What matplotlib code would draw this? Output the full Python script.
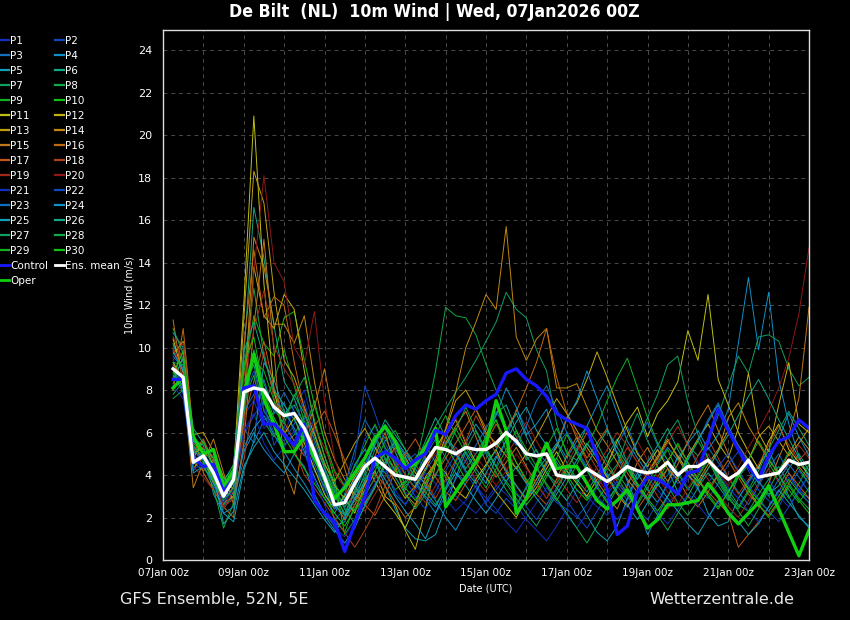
import matplotlib
matplotlib.use("Agg")
import matplotlib.pyplot as plt
import matplotlib.dates as mdates
from matplotlib.lines import Line2D
import pandas as pd

# 6-hourly steps, 07Jan 06z .. 23Jan 00z
times = pd.date_range("2026-01-07 06:00", periods=64, freq="6h")

ens_mean = [9.0, 8.6, 4.6, 4.9, 4.1, 3.0, 3.8, 7.9, 8.1, 8.0, 7.2, 6.8, 6.9, 6.2, 5.1, 3.9,
            2.6, 2.7, 3.6, 4.4, 4.8, 4.4, 4.0, 3.9, 3.8, 4.6, 5.3, 5.2, 5.0, 5.3, 5.2, 5.2,
            5.5, 6.0, 5.6, 5.0, 4.9, 5.0, 4.0, 3.9, 3.9, 4.3, 4.0, 3.7, 4.0, 4.4, 4.2, 4.1,
            4.2, 4.6, 4.0, 4.4, 4.4, 4.7, 4.2, 3.8, 4.1, 4.7, 3.9, 4.0, 4.1, 4.7, 4.5, 4.6]

control = [8.5, 8.5, 4.8, 4.4, 4.5, 3.2, 3.8, 8.1, 8.2, 6.4, 6.4, 5.9, 5.4, 6.4, 2.8, 2.2,
           1.8, 0.4, 1.7, 3.0, 4.8, 5.1, 4.8, 4.3, 4.7, 5.0, 6.1, 5.9, 6.8, 7.3, 7.1, 7.5,
           7.8, 8.8, 9.0, 8.5, 8.2, 7.7, 6.9, 6.6, 6.4, 6.2, 4.9, 3.3, 1.2, 1.6, 3.2, 3.9,
           3.8, 3.5, 3.1, 4.1, 4.2, 5.6, 7.1, 6.1, 5.2, 4.4, 3.8, 4.9, 5.6, 5.8, 6.6, 6.2]

oper = [8.1, 8.6, 5.8, 5.0, 5.2, 3.5, 4.2, 7.8, 9.7, 7.6, 6.4, 5.1, 5.1, 5.8, 4.8, 3.9,
        2.9, 3.4, 4.1, 4.8, 5.7, 6.3, 5.6, 4.4, 4.5, 5.3, 6.2, 2.5, 3.2, 3.9, 4.6, 5.4,
        7.5, 6.1, 2.2, 2.9, 4.4, 5.5, 4.3, 4.4, 4.4, 3.6, 2.8, 2.4, 2.8, 3.3, 2.4, 1.5,
        1.9, 2.6, 2.6, 2.7, 2.8, 3.6, 3.0, 2.2, 1.7, 2.2, 2.7, 3.5, 2.4, 1.3, 0.2, 1.4]

p1 = [9.5, 7.8, 4.5, 4.8, 4.0, 3.1, 3.6, 6.8, 7.5, 6.2, 6.6, 5.9, 7.2, 8.0, 6.1, 4.2,
      2.5, 2.0, 3.0, 4.6, 5.3, 4.8, 3.9, 3.2, 2.9, 3.5, 4.1, 3.7, 3.0, 2.6, 2.2, 2.8,
      3.5, 3.1, 2.6, 1.9, 1.4, 0.9, 1.6, 2.4, 3.3, 3.0, 2.5, 2.1, 2.8, 3.6, 4.2, 3.9,
      3.3, 2.7, 3.1, 3.8, 4.3, 5.0, 4.1, 3.4, 2.9, 3.6, 4.4, 3.8, 3.0, 2.5, 3.2, 4.0]
p2 = [8.8, 9.2, 4.9, 4.4, 4.3, 2.9, 3.4, 5.9, 6.8, 7.5, 5.4, 6.3, 5.6, 6.7, 4.9, 3.2,
      1.9, 2.4, 4.1, 5.7, 6.3, 5.2, 4.0, 4.6, 5.0, 4.2, 4.9, 5.6, 5.3, 4.8, 3.6, 2.6,
      2.2, 2.9, 2.4, 3.5, 4.0, 3.2, 2.7, 2.4, 2.0, 2.6, 3.4, 4.1, 3.5, 2.8, 3.9, 4.6,
      5.2, 4.5, 3.6, 4.0, 3.3, 2.9, 3.6, 4.5, 5.1, 4.2, 3.3, 2.8, 2.5, 3.4, 4.2, 3.6]
p3 = [10.1, 9.3, 5.3, 4.9, 4.2, 3.3, 4.1, 6.2, 5.5, 6.6, 6.9, 7.4, 6.0, 5.3, 4.2, 3.5,
      2.9, 3.5, 5.2, 6.6, 5.8, 4.4, 3.1, 2.6, 3.4, 4.9, 5.7, 4.8, 4.1, 3.7, 4.6, 5.1,
      4.4, 5.7, 7.1, 6.2, 5.1, 4.6, 5.4, 6.0, 5.2, 4.4, 3.6, 4.5, 5.4, 6.3, 5.1, 4.3,
      3.5, 4.0, 4.8, 5.5, 4.4, 5.3, 4.6, 3.9, 3.2, 2.6, 3.5, 4.3, 5.0, 4.1, 3.3, 2.9]
p4 = [9.0, 8.1, 4.2, 5.1, 3.8, 2.6, 3.0, 5.1, 6.0, 5.2, 4.6, 4.1, 5.0, 4.4, 3.1, 2.2,
      1.6, 1.8, 2.9, 3.6, 4.4, 5.0, 5.6, 4.9, 3.7, 3.0, 2.5, 3.4, 4.6, 5.5, 6.4, 5.7,
      6.8, 8.1, 7.2, 5.9, 6.4, 7.1, 5.6, 4.8, 5.6, 6.3, 7.3, 8.2, 6.9, 5.6, 4.8, 4.1,
      4.6, 5.3, 4.7, 5.5, 6.1, 5.2, 5.9, 7.1, 10.2, 13.3, 9.9, 12.6, 8.5, 6.4, 4.9, 3.8]
p5 = [10.7, 10.0, 5.7, 5.4, 3.1, 2.2, 1.8, 4.2, 5.6, 9.3, 8.5, 7.0, 6.2, 5.1, 3.9, 2.9,
      2.2, 3.1, 4.5, 5.2, 4.7, 3.5, 2.4, 1.5, 1.0, 0.9, 1.2, 2.5, 3.9, 5.1, 4.3, 3.6,
      4.8, 5.6, 6.5, 7.2, 6.1, 5.4, 4.6, 3.9, 3.0, 2.1, 1.3, 0.9, 1.6, 2.9, 4.1, 3.3,
      2.7, 3.6, 4.9, 4.1, 3.4, 2.2, 1.6, 1.8, 2.9, 3.7, 4.4, 5.2, 4.1, 3.0, 2.0, 1.6]
p6 = [10.2, 8.9, 5.4, 4.7, 3.6, 2.4, 3.2, 9.5, 16.6, 14.2, 11.0, 8.4, 7.6, 6.3, 5.0, 4.1,
      3.2, 2.1, 2.8, 4.1, 5.6, 6.2, 5.1, 4.0, 3.4, 4.2, 5.3, 6.0, 5.1, 4.3, 5.0, 5.8,
      6.9, 7.3, 6.1, 4.9, 4.2, 4.8, 5.5, 4.6, 3.8, 3.2, 4.0, 4.9, 5.7, 4.6, 3.5, 2.9,
      3.7, 4.3, 3.2, 2.6, 3.4, 4.1, 3.5, 2.8, 3.9, 4.5, 3.7, 3.1, 3.5, 4.3, 5.0, 4.2]
p7 = [8.3, 9.6, 5.8, 5.2, 4.5, 3.4, 3.9, 8.1, 9.2, 7.0, 6.3, 5.4, 5.9, 6.8, 6.0, 4.6,
      3.4, 2.5, 3.1, 3.9, 5.2, 5.8, 4.7, 3.5, 3.9, 5.0, 6.3, 7.1, 7.9, 8.6, 9.4, 10.3,
      11.2, 12.6, 11.8, 11.4, 9.9, 8.9, 6.4, 5.0, 4.7, 5.5, 4.8, 3.9, 4.5, 5.8, 6.9, 5.6,
      4.7, 5.9, 6.6, 5.4, 4.9, 5.6, 6.8, 8.2, 9.6, 8.8, 10.5, 10.6, 10.3, 9.0, 8.2, 8.6]
p8 = [7.8, 8.4, 5.2, 4.6, 3.9, 2.6, 3.5, 8.9, 12.8, 9.6, 7.8, 6.9, 7.3, 6.4, 5.3, 4.4,
      3.0, 2.2, 3.3, 4.9, 5.9, 4.8, 4.3, 3.3, 4.4, 6.5, 8.9, 11.9, 11.5, 11.4, 10.6, 9.2,
      8.0, 6.9, 5.8, 4.7, 5.2, 4.1, 3.6, 4.4, 3.7, 2.9, 3.5, 4.3, 3.9, 3.1, 2.6, 3.4,
      4.2, 3.5, 2.7, 2.1, 2.8, 3.4, 4.0, 3.3, 2.6, 2.3, 3.1, 3.8, 4.4, 3.6, 2.9, 2.4]
p9 = [8.9, 8.0, 4.6, 4.2, 4.7, 3.8, 4.3, 7.4, 9.8, 7.3, 8.5, 9.9, 8.2, 6.5, 4.8, 3.6,
      1.9, 1.3, 2.6, 3.8, 4.5, 5.6, 6.1, 5.2, 4.1, 3.8, 4.5, 5.4, 6.2, 5.3, 4.5, 5.9,
      6.6, 5.1, 4.3, 3.6, 4.4, 5.3, 6.2, 5.1, 4.3, 3.6, 2.8, 3.5, 4.1, 3.4, 2.7, 3.6,
      4.5, 5.2, 4.1, 3.3, 4.0, 4.8, 3.7, 2.9, 2.4, 3.2, 3.9, 4.6, 3.7, 2.9, 3.6, 4.5]
p10 = [8.6, 9.9, 5.5, 5.0, 4.0, 3.2, 4.0, 8.8, 11.5, 10.2, 9.6, 11.4, 11.7, 9.4, 7.3, 5.6,
       3.8, 1.2, 1.9, 3.3, 4.6, 4.1, 3.3, 3.7, 4.8, 5.4, 4.6, 3.9, 3.3, 4.0, 4.7, 5.3,
       4.4, 3.7, 3.1, 2.6, 3.2, 4.1, 4.8, 4.0, 3.3, 2.8, 3.5, 4.4, 5.1, 4.3, 3.6, 2.9,
       2.3, 3.0, 3.9, 4.6, 3.8, 3.1, 2.5, 3.2, 4.0, 3.4, 2.8, 2.3, 3.0, 3.8, 3.2, 2.7]
p11 = [10.4, 8.8, 4.8, 5.6, 4.4, 3.5, 4.2, 12.0, 20.9, 13.0, 8.0, 5.9, 6.7, 5.5, 4.3, 3.1,
       2.4, 3.0, 3.9, 4.6, 3.7, 2.8, 2.2, 1.5, 2.6, 3.9, 4.6, 4.1, 3.3, 2.9, 3.8, 4.5,
       5.2, 4.1, 3.5, 2.8, 3.4, 4.3, 5.1, 4.2, 3.6, 3.0, 3.8, 4.5, 5.6, 6.5, 7.2, 5.8,
       6.9, 7.5, 8.4, 10.8, 9.4, 12.5, 8.5, 7.3, 6.0, 5.1, 4.3, 5.6, 6.4, 5.2, 4.6, 4.0]
p12 = [9.3, 8.5, 5.0, 5.3, 4.8, 3.3, 2.9, 6.5, 13.8, 11.5, 10.9, 12.5, 11.8, 8.9, 6.4, 4.9,
       3.5, 2.9, 2.2, 3.6, 4.2, 3.0, 2.6, 1.4, 0.5, 2.4, 4.5, 5.8, 6.6, 5.5, 4.6, 3.9,
       3.2, 2.6, 2.0, 2.9, 3.8, 4.6, 5.3, 6.7, 7.4, 8.5, 9.8, 8.6, 7.3, 6.1, 5.0, 4.4,
       5.2, 4.3, 3.8, 4.9, 5.7, 6.4, 5.5, 4.8, 6.2, 8.8, 6.0, 5.1, 7.3, 9.3, 6.4, 6.0]
p13 = [9.7, 10.3, 5.9, 6.0, 5.1, 3.9, 3.3, 11.3, 18.3, 16.8, 12.6, 9.4, 8.6, 7.2, 5.9, 4.5,
       3.7, 4.6, 5.5, 6.2, 5.3, 4.5, 3.7, 2.9, 3.5, 4.3, 5.2, 6.1, 7.5, 8.0, 7.1, 6.0,
       5.5, 4.9, 4.3, 5.0, 5.8, 6.7, 7.6, 6.9, 6.1, 5.3, 4.6, 3.9, 3.1, 2.5, 3.3, 4.1,
       4.8, 5.6, 4.9, 4.2, 3.7, 4.5, 5.2, 6.1, 5.4, 4.7, 5.8, 6.3, 5.6, 4.9, 5.5, 6.2]
p14 = [9.2, 8.6, 4.3, 4.9, 3.6, 2.7, 3.0, 7.2, 15.2, 13.8, 11.1, 11.1, 10.2, 11.5, 8.4, 6.0,
       4.7, 3.8, 3.1, 2.7, 3.4, 4.6, 5.3, 4.8, 4.1, 3.6, 4.7, 6.2, 7.9, 10.0, 11.2, 12.5,
       11.8, 15.7, 10.5, 9.4, 10.4, 10.9, 8.1, 8.1, 8.3, 7.2, 6.1, 5.4, 4.6, 3.8, 3.2, 4.1,
       4.9, 5.7, 4.8, 4.0, 3.5, 4.3, 5.1, 6.7, 7.4, 6.3, 5.5, 4.7, 4.1, 5.0, 5.8, 5.2]
p15 = [11.3, 8.2, 3.4, 4.6, 5.7, 4.1, 2.6, 5.5, 11.0, 15.1, 9.8, 4.4, 3.1, 5.9, 7.2, 9.0,
       6.4, 4.3, 2.8, 3.5, 4.9, 6.0, 4.4, 3.1, 2.6, 3.4, 4.6, 5.5, 6.3, 7.0, 5.8, 4.6,
       3.9, 4.6, 5.3, 4.4, 3.6, 2.9, 3.8, 4.9, 5.8, 4.6, 3.7, 3.0, 2.4, 3.5, 4.6, 5.3,
       4.4, 3.7, 4.5, 5.6, 6.5, 7.3, 6.1, 5.0, 4.1, 3.3, 2.5, 3.6, 4.8, 5.9, 7.6, 11.9]
p16 = [8.0, 10.9, 6.0, 4.1, 3.3, 2.5, 2.0, 10.0, 14.6, 11.4, 12.4, 12.0, 9.3, 7.1, 5.2, 3.8,
       2.7, 1.9, 2.6, 3.3, 4.1, 3.5, 2.7, 2.0, 2.5, 3.3, 4.0, 4.8, 5.5, 6.3, 7.1, 6.2,
       5.3, 6.1, 7.0, 8.1, 9.3, 10.9, 8.6, 6.9, 5.7, 4.8, 5.5, 6.2, 5.0, 4.1, 3.4, 2.8,
       3.5, 4.3, 3.8, 3.0, 2.5, 3.2, 4.0, 4.7, 3.9, 3.1, 2.6, 2.1, 2.8, 3.6, 4.4, 3.8]
p17 = [9.9, 9.0, 5.1, 5.7, 4.6, 3.6, 3.1, 6.6, 8.4, 10.3, 8.1, 6.5, 5.6, 4.9, 6.3, 7.0,
       5.9, 4.7, 3.5, 2.6, 2.1, 3.0, 4.2, 5.0, 5.7, 4.8, 3.9, 3.2, 2.8, 3.6, 4.3, 5.5,
       6.4, 5.7, 4.6, 3.7, 3.1, 2.6, 3.4, 4.3, 5.1, 6.0, 5.2, 4.4, 3.7, 3.0, 2.4, 3.1,
       3.9, 4.7, 5.4, 4.6, 3.8, 3.2, 2.7, 2.2, 0.6, 1.2, 1.8, 2.5, 3.2, 4.1, 3.5, 2.9]
p18 = [10.5, 9.4, 5.0, 4.3, 3.8, 2.5, 2.9, 4.7, 7.5, 9.8, 7.6, 6.1, 5.2, 4.0, 3.4, 2.7,
       2.0, 1.3, 0.6, 1.4, 2.3, 3.5, 4.3, 5.1, 4.5, 3.7, 2.9, 3.8, 4.7, 5.6, 6.8, 5.9,
       5.0, 4.3, 3.5, 2.8, 3.6, 4.5, 5.4, 6.7, 5.9, 5.1, 4.3, 3.5, 4.4, 5.3, 4.6, 3.8,
       3.0, 2.4, 3.2, 4.0, 4.9, 5.7, 4.8, 3.9, 3.1, 3.8, 4.5, 5.4, 6.3, 5.4, 4.7, 5.2]
p19 = [10.0, 8.7, 4.4, 3.9, 3.3, 2.9, 4.4, 8.6, 10.8, 12.7, 10.1, 9.0, 8.3, 7.0, 6.2, 5.3,
       4.1, 3.4, 2.8, 2.3, 3.1, 3.9, 4.7, 4.0, 3.3, 2.7, 3.5, 4.4, 5.3, 4.6, 3.8, 3.2,
       4.1, 4.9, 5.7, 6.5, 5.6, 4.8, 4.0, 3.3, 2.7, 3.5, 4.4, 5.2, 6.0, 5.4, 4.6, 3.9,
       4.7, 5.5, 6.3, 5.4, 4.6, 3.8, 3.1, 2.5, 2.0, 2.8, 3.6, 4.3, 3.7, 4.6, 5.4, 4.8]
p20 = [9.4, 10.2, 5.5, 5.3, 4.9, 2.4, 3.3, 5.8, 13.6, 18.1, 14.0, 13.1, 10.0, 9.2, 11.7, 7.5,
       4.8, 3.3, 2.5, 3.1, 3.8, 4.4, 5.2, 4.5, 3.7, 4.5, 5.0, 5.8, 6.7, 5.6, 4.9, 4.2,
       3.5, 4.2, 5.0, 4.3, 3.6, 2.9, 3.7, 4.5, 5.4, 4.7, 3.9, 3.2, 4.0, 4.8, 5.6, 4.7,
       3.9, 3.2, 2.6, 3.4, 4.1, 5.0, 4.2, 3.5, 4.4, 5.3, 6.1, 7.0, 8.1, 9.5, 11.6, 14.7]
p21 = [8.2, 7.6, 4.3, 4.5, 3.5, 2.7, 3.3, 6.1, 6.9, 5.5, 4.7, 5.3, 6.1, 5.0, 3.8, 2.6,
       1.5, 1.1, 1.9, 2.8, 3.6, 4.2, 3.3, 2.6, 3.3, 4.1, 3.6, 2.9, 2.3, 2.8, 3.5, 2.9,
       2.4, 1.8, 1.3, 2.0, 2.7, 3.4, 2.8, 2.1, 1.5, 2.2, 3.0, 2.5, 1.9, 2.6, 3.3, 2.8,
       2.2, 1.7, 2.4, 3.1, 2.6, 2.0, 2.7, 3.4, 2.9, 2.3, 1.8, 2.5, 3.2, 3.9, 3.3, 2.7]
p22 = [9.1, 8.3, 4.7, 5.0, 4.4, 3.4, 3.9, 7.7, 8.9, 7.1, 6.0, 5.6, 6.4, 7.5, 5.5, 3.9,
       2.8, 3.6, 4.8, 8.2, 6.9, 5.5, 4.6, 3.8, 3.0, 2.4, 3.2, 4.2, 5.0, 4.1, 3.4, 2.7,
       3.3, 4.0, 3.2, 2.5, 1.9, 2.6, 3.4, 2.8, 2.1, 1.5, 2.3, 3.1, 3.7, 3.0, 2.4, 1.9,
       2.7, 3.5, 4.2, 3.4, 2.8, 3.6, 4.4, 5.0, 4.2, 3.5, 2.9, 2.3, 1.8, 2.5, 3.3, 4.0]
p23 = [9.6, 9.0, 5.2, 4.7, 4.0, 3.0, 3.7, 7.0, 7.8, 8.5, 6.9, 7.9, 7.0, 5.8, 4.5, 3.4,
       2.4, 2.9, 3.8, 4.5, 5.4, 6.4, 5.3, 4.4, 3.6, 2.9, 2.2, 3.0, 3.8, 4.7, 5.4, 6.2,
       7.0, 6.2, 5.4, 6.3, 7.5, 8.2, 7.1, 6.0, 5.1, 4.3, 3.5, 2.8, 3.5, 4.4, 5.6, 6.5,
       5.4, 4.7, 3.9, 4.8, 5.6, 6.6, 7.4, 6.3, 5.4, 4.6, 3.7, 3.0, 3.8, 4.5, 3.9, 3.2]
p24 = [8.7, 7.9, 4.1, 4.4, 3.7, 2.2, 2.5, 5.3, 6.2, 6.8, 5.9, 5.1, 4.3, 3.6, 2.8, 2.1,
       1.4, 0.8, 1.5, 2.6, 3.5, 4.4, 5.7, 5.0, 4.3, 3.5, 2.8, 2.0, 1.4, 2.3, 3.2, 4.1,
       4.9, 4.2, 3.5, 2.9, 3.6, 4.5, 5.4, 6.6, 7.5, 8.9, 7.6, 6.2, 5.0, 3.7, 2.6, 1.2,
       2.1, 3.0, 3.8, 4.7, 5.6, 6.5, 7.3, 6.1, 5.2, 4.4, 3.6, 4.6, 5.7, 6.9, 5.8, 4.9]
p25 = [9.8, 8.9, 5.6, 5.1, 4.1, 1.7, 2.3, 4.4, 5.3, 6.0, 5.1, 4.5, 3.9, 3.3, 2.6, 1.9,
       1.3, 2.0, 2.9, 3.7, 4.6, 3.8, 3.0, 2.3, 1.7, 1.0, 2.2, 3.3, 4.1, 3.5, 2.8, 2.2,
       2.9, 3.7, 4.4, 3.6, 2.9, 2.3, 3.1, 3.9, 4.7, 5.5, 4.8, 4.0, 3.2, 2.6, 1.9, 2.7,
       3.6, 2.9, 2.3, 1.7, 1.2, 2.0, 2.8, 2.3, 1.8, 1.2, 1.7, 2.5, 3.3, 2.7, 2.1, 1.5]
p26 = [8.5, 9.5, 6.2, 5.5, 4.8, 3.7, 4.5, 9.8, 11.2, 9.5, 8.0, 7.3, 6.6, 5.7, 4.7, 3.7,
       2.6, 2.1, 3.2, 4.3, 5.5, 6.6, 5.9, 5.2, 4.5, 5.6, 6.7, 5.8, 5.0, 4.2, 3.6, 4.4,
       5.2, 6.0, 6.9, 5.8, 4.9, 4.1, 3.4, 2.8, 3.6, 4.5, 5.3, 6.1, 5.3, 4.5, 3.8, 4.6,
       5.4, 6.2, 5.2, 4.4, 3.6, 4.3, 5.1, 5.9, 6.8, 7.7, 8.5, 7.6, 6.6, 5.7, 4.8, 4.0]
p27 = [10.9, 9.7, 5.4, 4.8, 3.9, 2.8, 3.4, 6.9, 9.9, 8.3, 7.1, 6.4, 7.8, 6.9, 5.7, 4.3,
       3.3, 2.4, 1.7, 2.5, 3.4, 4.6, 5.6, 4.7, 3.9, 3.2, 2.6, 3.4, 4.3, 5.2, 6.1, 5.2,
       4.4, 3.6, 2.9, 2.2, 1.6, 2.4, 3.3, 4.2, 5.2, 6.3, 5.5, 4.6, 3.8, 4.7, 5.6, 6.7,
       7.8, 9.2, 9.6, 7.4, 5.9, 4.8, 3.9, 3.1, 2.5, 3.3, 4.2, 5.2, 6.1, 7.0, 6.2, 5.4]
p28 = [7.6, 8.0, 4.9, 4.5, 3.4, 1.5, 2.7, 7.5, 8.7, 6.5, 5.8, 6.7, 7.7, 8.6, 6.6, 4.9,
       3.6, 2.8, 2.3, 3.0, 3.9, 4.8, 3.9, 3.1, 2.4, 3.1, 4.0, 5.0, 6.1, 7.2, 6.1, 5.0,
       4.1, 3.3, 2.6, 3.4, 4.3, 3.6, 2.9, 2.2, 1.5, 0.8, 1.6, 2.5, 3.4, 4.3, 3.5, 2.8,
       2.1, 1.4, 2.2, 3.0, 3.9, 4.7, 3.8, 3.0, 2.3, 1.6, 2.4, 3.3, 4.2, 5.1, 4.3, 3.6]
p29 = [9.3, 9.2, 5.0, 5.6, 4.3, 3.1, 3.6, 7.8, 9.4, 8.9, 7.5, 6.0, 5.3, 6.1, 7.5, 5.6,
       4.2, 3.5, 4.4, 5.4, 6.4, 5.3, 4.5, 3.6, 4.3, 5.1, 5.9, 6.8, 5.9, 5.0, 4.1, 3.4,
       4.3, 5.2, 6.1, 5.2, 4.4, 3.5, 2.8, 3.6, 4.5, 5.4, 6.3, 7.5, 8.6, 9.5, 8.1, 6.7,
       5.5, 4.7, 3.9, 4.8, 5.6, 4.8, 4.0, 3.2, 3.9, 4.7, 5.6, 4.8, 4.0, 3.3, 2.7, 3.4]
p30 = [8.8, 9.8, 5.9, 4.9, 3.7, 3.0, 4.1, 9.2, 10.5, 7.9, 6.7, 5.8, 5.0, 4.3, 3.6, 2.9,
       2.2, 1.6, 2.4, 3.3, 4.2, 5.1, 4.2, 3.4, 2.8, 3.6, 4.5, 5.4, 4.6, 3.8, 4.7, 5.7,
       6.6, 5.5, 4.6, 3.8, 3.1, 3.9, 4.8, 5.9, 5.0, 4.2, 3.4, 2.7, 3.5, 4.4, 3.6, 2.9,
       3.7, 4.6, 5.5, 4.6, 3.8, 3.0, 2.4, 3.2, 4.1, 3.3, 2.6, 2.0, 2.7, 3.5, 2.8, 2.2]

members = [p1, p2, p3, p4, p5, p6, p7, p8, p9, p10,
           p11, p12, p13, p14, p15, p16, p17, p18, p19, p20,
           p21, p22, p23, p24, p25, p26, p27, p28, p29, p30]

# colour cycle of the 20 perturbation colours (P21..P30 repeat P1..P10)
member_colors = ["#1030c0", "#1048c0", "#1070c0", "#1090c8", "#10a0b8",
                 "#10a888", "#10a060", "#10a848", "#10b020", "#10c010",
                 "#c0c010", "#c0b010", "#c0a010", "#c08810", "#c07818",
                 "#c06810", "#c05818", "#b04018", "#a02818", "#901818"]

BG = "black"
FG = "white"

plt.rcParams["font.family"] = ["DejaVu Sans"]

fig = plt.figure(figsize=(8.5, 6.2), dpi=100, facecolor=BG)
ax = fig.add_axes([163 / 850, 60 / 620, 646 / 850, 530 / 620])
ax.set_facecolor(BG)

handles = []
for i, vals in enumerate(members):
    c = member_colors[i % 20]
    ln, = ax.plot(times, vals, color=c, lw=0.7, label=f"P{i + 1}")
    handles.append(ln)

h_oper, = ax.plot(times, oper, color="#10d010", lw=2.4, label="Oper")
h_ctrl, = ax.plot(times, control, color="#1818ff", lw=2.4, label="Control")
h_mean, = ax.plot(times, ens_mean, color="white", lw=2.4, label="Ens. mean")

ax.set_xlim(pd.Timestamp("2026-01-07 00:00"), pd.Timestamp("2026-01-23 00:00"))
ax.set_ylim(0, 24.95)
ax.set_yticks(range(0, 25, 2))

ax.xaxis.set_major_locator(mdates.DayLocator(bymonthday=range(7, 24, 2)))
ax.xaxis.set_minor_locator(mdates.DayLocator())
ax.xaxis.set_major_formatter(mdates.DateFormatter("%d%b %Hz"))

ax.grid(True, which="both", axis="x", color="#4a4a4a", ls=(0, (4, 4)), lw=0.7)
ax.grid(True, which="major", axis="y", color="#4a4a4a", ls=(0, (4, 4)), lw=0.7)
ax.tick_params(which="both", length=0, colors=FG, labelsize=7.5)
ax.tick_params(axis="x", pad=6)
ax.tick_params(axis="y", pad=8, labelsize=8)
for sp in ax.spines.values():
    sp.set_color("#dddddd")
    sp.set_linewidth(1.0)

ax.set_ylabel("10m Wind (m/s)", color=FG, fontsize=7, labelpad=2)
ax.set_xlabel("Date (UTC)", color=FG, fontsize=7, labelpad=4)

fig.text(0.511, 0.98, "De Bilt  (NL)  10m Wind | Wed, 07Jan2026 00Z",
         color=FG, fontsize=12.7, fontweight="bold", fontstretch="condensed",
         ha="center", va="center")
fig.text(120 / 850, 1 - 599 / 620, "GFS Ensemble, 52N, 5E", color="#e8e8e8",
         fontsize=11.5, ha="left", va="center")
fig.text(794 / 850, 1 - 599 / 620, "Wetterzentrale.de", color="#e8e8e8",
         fontsize=11.5, ha="right", va="center")

# legend: rows P1 P2 / P3 P4 ... (ncol fills column-first)
col1 = handles[0::2] + [h_ctrl, h_oper]
col2 = handles[1::2] + [h_mean]
leg_handles = []
for h in col1 + col2:
    leg_handles.append(Line2D([0], [0], color=h.get_color(),
                              lw=2 if h in (h_ctrl, h_oper, h_mean) else 1.6,
                              label=h.get_label()))
leg = fig.legend(handles=leg_handles, ncol=2, loc="upper left",
                 bbox_to_anchor=(0.0, 1 - 36 / 620), frameon=False,
                 fontsize=7.5, labelcolor=FG, handlelength=0.9,
                 handletextpad=0.1, columnspacing=0.6, labelspacing=0.48,
                 borderpad=0, borderaxespad=0)

fig.savefig("out.png", dpi=100, facecolor=BG)
